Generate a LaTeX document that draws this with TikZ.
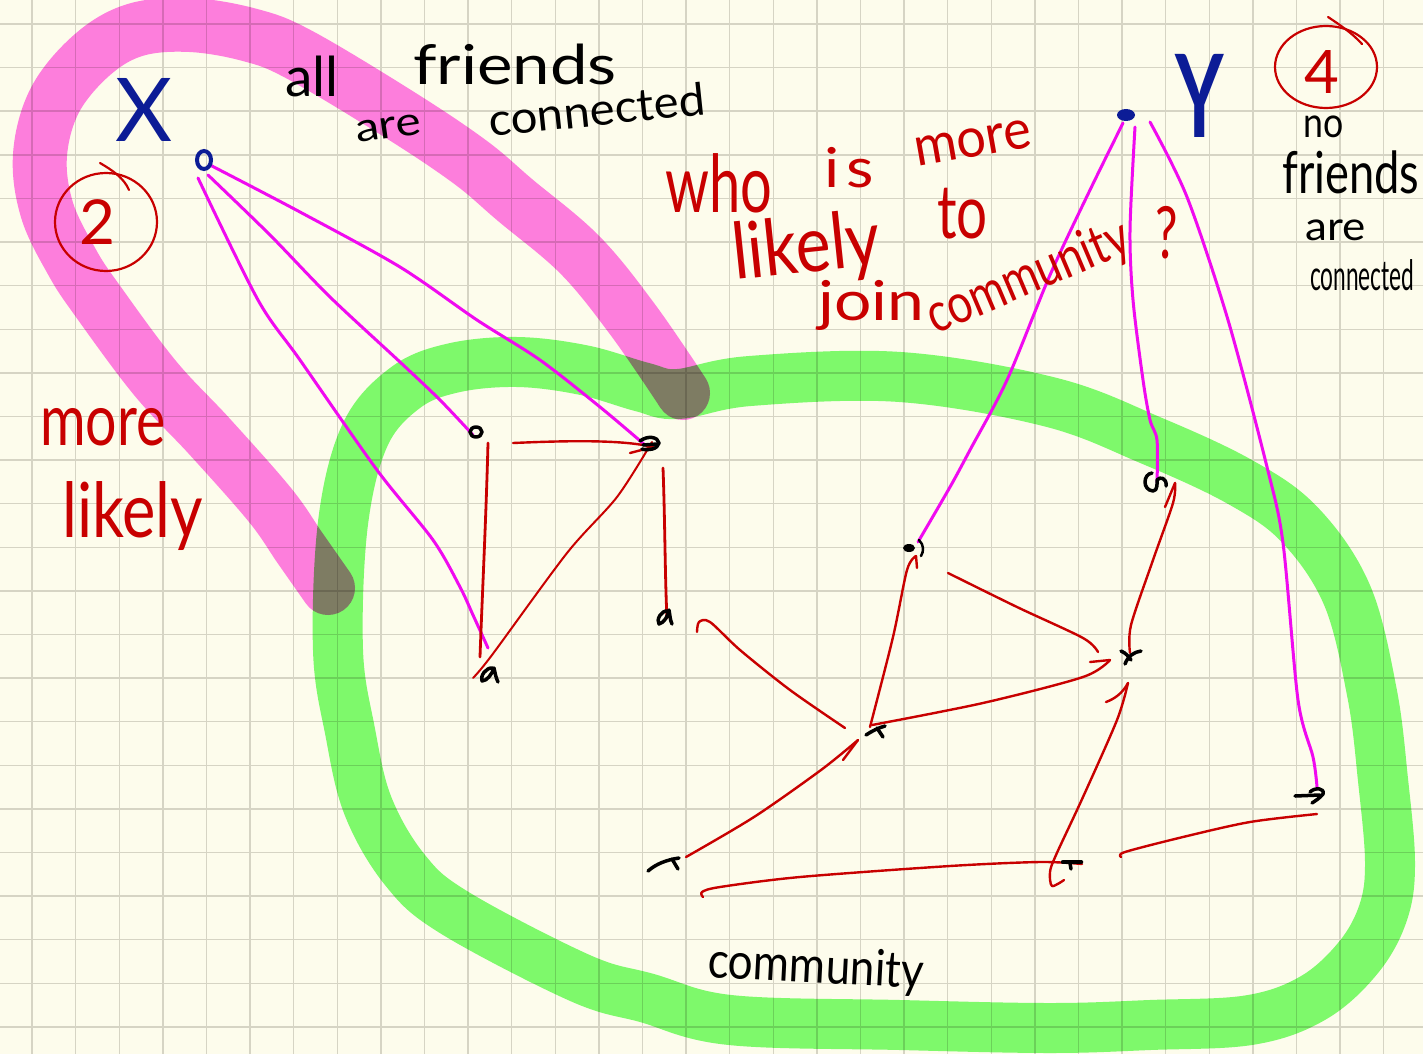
\documentclass[tikz,border=0pt]{standalone}
\usepackage{fontspec}
\setmainfont{Lato}
\usetikzlibrary{calc}
\definecolor{paper}{RGB}{253,252,236}
\definecolor{gridc}{RGB}{214,212,196}
\definecolor{pinkhl}{RGB}{255,128,238}
\definecolor{greenhl}{RGB}{128,252,116}
\definecolor{inkred}{RGB}{200,0,0}
\definecolor{inkmag}{RGB}{240,10,240}
\definecolor{inkblue}{RGB}{12,28,150}
\newcommand\hsz[1]{\fontsize{#1}{#1}\selectfont}
\begin{document}
\begin{tikzpicture}[x=1pt,y=-1pt,
  gridline/.style={draw=gridc,line width=1.4},
  redl/.style={draw=inkred,line width=2.4,line cap=round,line join=round},
  magl/.style={draw=inkmag,line width=3,line cap=round,line join=round},
  vmark/.style={draw=black,line width=3.5,line cap=round,line join=round},
  hand/.style={inner sep=0pt,anchor=base west},
  circ/.style={draw=inkred,line width=2.2,line cap=round}]
\fill[paper] (0,0) rectangle (1423,1054);
\useasboundingbox (0,0) rectangle (1423,1054);
\clip (0,0) rectangle (1423,1054);
% grid
\foreach \i in {0,...,31} {\draw[gridline] ({32+43.6*\i},0) -- ({32+43.6*\i},1054);}
\foreach \j in {0,...,23} {\draw[gridline] (0,{24+43.6*\j}) -- (1423,{24+43.6*\j});}
% highlighter bands
\begin{scope}[blend mode=multiply]
\draw[greenhl,line width=50] plot[smooth cycle,tension=0.6] coordinates {
 (338,650) (343,523) (365,435) (405,388) (453,368) (517,362) (583,370) (642,387) (678,394)
 (750,381) (900,377) (1050,402) (1150,440) (1240,482) (1300,525) (1347,595) (1372,693)
 (1383,780) (1390,863) (1383,913) (1358,958) (1313,998) (1250,1020) (1150,1025) (1050,1028)
 (900,1025) (730,1020) (647,998) (580,978) (455,913) (405,870) (368,806) (350,731)};
\draw[pinkhl,line width=54,line cap=round] plot[smooth,tension=0.6] coordinates {
 (328,588) (300,548) (270,505) (210,437) (155,378) (97,300) (72,262) (47,210) (40,155)
 (55,100) (92,55) (135,30) (190,25) (250,35) (300,55) (400,115) (470,162) (515,200)
 (580,255) (633,320) (683,393)};
\end{scope}
% vertices
\coordinate (X) at (204,160);
\coordinate (Y) at (1126,115);
\coordinate (p) at (476,432);
\coordinate (q) at (651,444);
\coordinate (r) at (489,674);
\coordinate (s) at (665,617);
\coordinate (t) at (913,547);
\coordinate (u) at (1156,483);
\coordinate (v) at (1130,657);
\coordinate (w) at (874,730);
\coordinate (z) at (1310,795);
\coordinate (m) at (664,865);
\coordinate (k) at (1072,863);
% magenta connectors
\draw[magl] plot[smooth] coordinates {([shift={(4,15)}]X) (270,235) (330,297) (400,362) (440,400) ([shift={(-3,3)}]p)};
\draw[magl] plot[smooth] coordinates {([shift={(6,5)}]X) (300,212) (400,267) (477,320) (540,360) (600,407) ([shift={(-6,1)}]q)};
\draw[magl] plot[smooth] coordinates {([shift={(-6,18)}]X) (258,300) (300,360) (377,470) (433,540) (460,587) (473,615) ([shift={(-1,-26)}]r)};
\draw[magl] plot[smooth] coordinates {([shift={(-3,8)}]Y) (1090,190) (1050,275) (1007,380) (970,450) (950,487) ([shift={(5,-5)}]t)};
\draw[magl] plot[smooth] coordinates {([shift={(9,12)}]Y) (1130,230) (1133,300) (1143,380) (1150,420) (1157,440) ([shift={(1,0)}]u)};
\draw[magl] plot[smooth] coordinates {([shift={(24,7)}]Y) (1187,197) (1228,320) (1267,467) (1283,543) (1298,700) (1313,757) ([shift={(7,-8)}]z)};
% red connectors
\draw[redl,line width=2.8] ([shift={(12,11)}]p) .. controls (486,520) and (482,600) .. ([shift={(-9,-17)}]r);
\draw[redl] ([shift={(37,11)}]p) .. controls (560,441) and (620,439) .. ([shift={(2,3)}]q);
\draw[redl] ([shift={(2,3)}]q) -- (630,453);
\draw[redl,line width=2] plot[smooth] coordinates {([shift={(-16,4)}]r) (492,655) (567,553) (617,497) ([shift={(1,-2)}]q)};
\draw[redl,line width=2.8] ([shift={(12,24)}]q) .. controls (665,520) and (665,580) .. ([shift={(2,1)}]s);
\draw[redl] plot[smooth] coordinates {([shift={(32,15)}]s) (699,622) (710,622) (740,650) (790,690) ([shift={(-29,-2)}]w)};
\draw[redl] plot[smooth] coordinates {([shift={(-4,-3)}]w) (893,637) (907,570) ([shift={(3,9)}]t)};
\draw[redl] ([shift={(3,9)}]t) -- (917,568);
\draw[redl] plot[smooth] coordinates {([shift={(-2,-5)}]w) (983,703) (1083,677) ([shift={(-20,3)}]v)};
\draw[redl] ([shift={(-20,3)}]v) -- (1090,662);
\draw[redl] plot[smooth] coordinates {([shift={(35,26)}]t) (1017,607) (1083,638) ([shift={(-32,-5)}]v)};
\draw[redl] plot[smooth] coordinates {([shift={(0,-4)}]v) (1131,625) (1153,560) (1173,503) ([shift={(19,0)}]u)};
\draw[redl] ([shift={(19,0)}]u) -- (1165,507);
\draw[redl] plot[smooth] coordinates {([shift={(-8,17)}]k) (1052,886) (1050,872) (1056,855) (1083,797) (1117,720) ([shift={(-2,26)}]v)};
\draw[redl] (1106,702) .. controls (1114,699) and (1122,694) .. ([shift={(-2,26)}]v);
\draw[redl] plot[smooth] coordinates {(703,897) (702,892) (720,887) (800,877) (950,866) (1040,862) ([shift={(10,1)}]k)};
\draw[redl] plot[smooth] coordinates {([shift={(22,-8)}]m) (754,817) (821,770) ([shift={(-16,10)}]w)};
\draw[redl] ([shift={(-16,10)}]w) -- (843,760);
\draw[redl] plot[smooth] coordinates {([shift={(49,-6)}]k) (1125,852) (1183,837) (1250,822) ([shift={(7,19)}]z)};
% vertex marks
\draw[vmark] (p) ellipse (6 and 5);
\draw[vmark] (640,441) .. controls (648,435) and (658,437) .. (659,443) .. controls (658,449) and (648,451) .. (642,449);
\draw[vmark] (643,445) -- (657,444);
\draw[vmark] (493,668) .. controls (486,667) and (480,676) .. (482,681) .. controls (487,681) and (492,674) .. (494,668) .. controls (495,673) and (496,678) .. (498,682);
\draw[vmark] (668,611) .. controls (661,610) and (656,620) .. (659,624) .. controls (664,623) and (668,616) .. (669,610) .. controls (670,615) and (670,620) .. (672,624);
\fill (909,548) ellipse (6 and 4);
\draw[vmark,line width=2.5] (919,540) .. controls (924,545) and (924,551) .. (921,556);
\draw[vmark] (1152,473) .. controls (1143,474) and (1142,490) .. (1153,491) .. controls (1158,491) and (1157,482) .. (1157,480) .. controls (1160,476) and (1167,478) .. (1166,486);
\draw[vmark] (1121,651) .. controls (1126,653) and (1129,657) .. (1131,660);
\draw[vmark] (1141,651) .. controls (1134,652) and (1128,656) .. (1125,664);
\draw[vmark] (866,735) .. controls (872,731) and (878,728) .. (885,726);
\draw[vmark] (877,728) -- (883,737);
\draw[vmark] (1295,796) -- (1320,795);
\draw[vmark] (1310,792) .. controls (1315,787) and (1325,788) .. (1323,794) .. controls (1320,798) and (1315,801) .. (1312,803);
\draw[vmark] (648,871) .. controls (656,864) and (666,860) .. (679,858);
\draw[vmark] (672,859) -- (678,869);
\draw[vmark,line width=4.5] (1063,862) -- (1081,862);
\draw[vmark] (1070,863) -- (1071,869);
\draw[inkblue,line width=4] (X) ellipse (7 and 9);
\fill[inkblue] (Y) ellipse (9 and 6);
% circled numbers
\draw[circ] (106,222) ellipse (51 and 49);
\draw[circ] (100,163) .. controls (112,170) and (124,178) .. (129,190);
\node[inner sep=0pt,inkred] (two) at (97,222) {\hsz{62}2};
\draw[circ] (1326,67) ellipse (51 and 41);
\draw[circ] (1328,17) .. controls (1340,25) and (1352,33) .. (1362,44);
\node[inner sep=0pt,inkred] (four) at (1322,72) {\hsz{60}4};
% texts
\node[hand,inkblue] (tX) at (115,142) {\hsz{88}X};
\node[hand,inkblue,xscale=0.65] (tY) at (1175,137) {\hsz{115}\bfseries Y};
\node[hand] (t1) at (285,97) {\hsz{55}all};
\node[hand,xscale=1.22] (t2) at (413,85) {\hsz{55}friends};
\node[hand,rotate=8,xscale=1.2] (t3) at (357,143) {\hsz{40}are};
\node[hand,rotate=6,xscale=1.05] (t4) at (490,137) {\hsz{45}connected};
\node[hand,inkred,xscale=0.77] (t5) at (40,445) {\hsz{72}more};
\node[hand,inkred,xscale=0.83] (t6) at (62,537) {\hsz{76}likely};
\node[hand,inkred,xscale=0.7] (t7) at (665,212) {\hsz{80}who};
\node[hand,inkred,xscale=1.15] (t8) at (824,187) {\hsz{55}i\hspace{6pt}s};
\node[hand,inkred,rotate=10,xscale=0.95] (t9) at (917,167) {\hsz{55}more};
\node[hand,inkred,rotate=6,xscale=0.85] (t10) at (735,280) {\hsz{78}likely};
\node[hand,inkred,xscale=0.73] (t11) at (937,238) {\hsz{75}to};
\node[hand,inkred,xscale=1.2] (t12) at (818,320) {\hsz{55}join};
\node[hand,inkred,rotate=23,xscale=0.8] (t13) at (935,335) {\hsz{55}community};
\node[hand,inkred,xscale=0.7] (t14) at (1155,258) {\hsz{72}?};
\node[hand,xscale=0.85] (t15) at (1303,138) {\hsz{42}no};
\node[hand,xscale=0.78] (t16) at (1282,193) {\hsz{58}friends};
\node[hand,xscale=1.1] (t17) at (1305,240) {\hsz{40}are};
\node[hand,xscale=0.54] (t18) at (1310,290) {\hsz{42}connected};
\node[hand,rotate=-3,xscale=0.88] (t19) at (707,977) {\hsz{50}community};
\end{tikzpicture}
\end{document}
